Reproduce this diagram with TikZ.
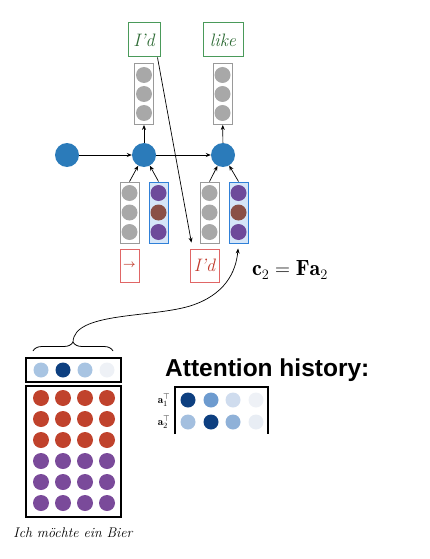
\documentclass[tikz,border=0pt]{standalone}
\usepackage{amsmath}
\usepackage{fontspec}
\newfontfamily\headfont{Liberation Sans}
\usetikzlibrary{arrows.meta,decorations.pathreplacing,calc}
\definecolor{hidblue}{HTML}{2B7BBA}
\definecolor{dotgray}{HTML}{A8A8A8}
\definecolor{boxgray}{HTML}{9A9A9A}
\definecolor{boxblue}{HTML}{2F80D8}
\definecolor{boxbluefill}{HTML}{D6E6F8}
\definecolor{vpurple}{HTML}{6E4A9A}
\definecolor{vbrown}{HTML}{8A5047}
\definecolor{gborder}{HTML}{4A9A5A}
\definecolor{gtext}{HTML}{2E6B35}
\definecolor{rborder}{HTML}{E06666}
\definecolor{rtext}{HTML}{C0392B}
\definecolor{mred}{HTML}{C0422C}
\definecolor{mpurple}{HTML}{7A4A9A}
\definecolor{navy}{HTML}{0D3F80}
\definecolor{aA}{HTML}{A8C4E2}
\definecolor{aB}{HTML}{EEF1F6}
\definecolor{aC}{HTML}{6D9BCF}
\definecolor{aD}{HTML}{CFDCEE}
\definecolor{aE}{HTML}{A3BFDF}
\definecolor{aF}{HTML}{8FB1D8}
\definecolor{aG}{HTML}{E8EDF4}
\begin{document}
\begin{tikzpicture}[x=1pt,y=-1pt,
  arr/.style={-{Stealth[length=5pt,width=4pt]}, line width=0.7pt},
  hid/.style={circle, fill=hidblue, minimum size=24pt, inner sep=0pt},
  dot/.style={circle, fill=#1, minimum size=16pt, inner sep=0pt},
  sdot/.style={circle, fill=#1, minimum size=15pt, inner sep=0pt},
  vbox/.style={draw=boxgray, line width=0.8pt, minimum width=19pt, minimum height=61pt, inner sep=0pt},
  bvbox/.style={draw=boxblue, fill=boxbluefill, line width=1pt, minimum width=19pt, minimum height=61pt, inner sep=0pt},
  gbox/.style={draw=gborder, line width=1pt, text=gtext, minimum height=34pt, inner sep=0pt, font=\fontsize{18}{20}\selectfont\itshape},
  rbox/.style={draw=rborder, line width=1pt, text=rtext, minimum height=33pt, inner sep=0pt, font=\fontsize{18}{20}\selectfont\itshape},
  frame/.style={draw=black, line width=1.4pt, inner sep=0pt}
]
\useasboundingbox (0,0) rectangle (430,559);

% hidden states
\node[hid] (h0) at (67,155) {};
\node[hid] (h1) at (144,155) {};
\node[hid] (h2) at (223,155) {};
\draw[arr] (h0) -- (h1);
\draw[arr] (h1) -- (h2);

% output vectors
\node[vbox] (u1) at (144,94) {};
\node[vbox] (u2) at (222.5,94) {};
\foreach \n/\x in {u1/144,u2/222.5}{
  \foreach \y in {75,94,113}{ \node[dot=dotgray] at (\x,\y) {}; }
}
\draw[arr] (h1) -- (u1);
\draw[arr] (h2) -- (u2);

% output words
\node[gbox, minimum width=32pt] (gI) at (144,40) {I'd};
\node[gbox, minimum width=40pt] (gL) at (223,40) {like};

% input vectors
\node[vbox] (g1) at (129.5,212.5) {};
\node[bvbox] (b1) at (158.5,212.5) {};
\node[vbox] (g2) at (209.5,212.5) {};
\node[bvbox] (b2) at (238.5,212.5) {};
\foreach \x in {129.5,209.5}{
  \foreach \y in {193,212.5,232}{ \node[dot=dotgray] at (\x,\y) {}; }
}
\foreach \x in {158.5,238.5}{
  \node[dot=vpurple] at (\x,193) {};
  \node[dot=vbrown] at (\x,212.5) {};
  \node[dot=vpurple] at (\x,232) {};
}
\draw[arr] (g1.north) -- (h1);
\draw[arr] (b1.north) -- (h1);
\draw[arr] (g2.north) -- (h2);
\draw[arr] (b2.north) -- (h2);

% input words
\node[rbox, minimum width=19pt, font=\fontsize{11}{12}\selectfont] (rA) at (129.5,265.5) {$\boldsymbol{\rightarrow}$};
\node[rbox, minimum width=29pt] (rI) at (204.5,265.5) {I'd};
\draw[arr, shorten >=6pt] ([xshift=-3pt]gI.south east) -- ([xshift=3pt]rI.north west);

% c2 = F a2
\node[font=\fontsize{22}{26}\selectfont] (ceq) at (290,270) {$\mathbf{c}_2 = \mathbf{F}\mathbf{a}_2$};

% attention vector
\node[frame, minimum width=95pt, minimum height=24pt] (av) at (73.5,370) {};
\node[sdot=aA] (av1) at (41,370) {};
\node[sdot=navy] (av2) at (63,370) {};
\node[sdot=aA] (av3) at (85,370) {};
\node[sdot=aB] (av4) at (107,370) {};

% brace and curve
\draw[line width=0.8pt, decorate, decoration={brace, amplitude=9pt}] (33,351) -- (113,351);
\coordinate (tip) at (73,342);
\draw[arr, shorten >=5pt] (tip) .. controls (74,312) and (150,318) .. (190,306) .. controls (225,295) and (236,272) .. (b2.south);

% encoder matrix
\node[frame, minimum width=95pt, minimum height=131pt] (F) at (73.5,451.5) {};
\foreach \y in {398,419,440}{
  \foreach \x in {41,63,85,107}{ \node[dot=mred] at (\x,\y) {}; }
}
\foreach \y in {461,482,503}{
  \foreach \x in {41,63,85,107}{ \node[dot=mpurple] at (\x,\y) {}; }
}
\node[font=\fontsize{14}{16}\selectfont\itshape] (src) at (73,533) {Ich möchte ein Bier};

% attention history
\node[font=\fontsize{24.5}{27}\selectfont\headfont\bfseries, anchor=base west, inner sep=0pt] (ah) at (165,376) {Attention history:};
\coordinate (hb1) at (175,434);
\coordinate (ht1) at (175,387);
\coordinate (ht2) at (268,387);
\coordinate (hb2) at (268,434);
\draw[line width=1.4pt] (hb1) -- (ht1) -- (ht2) -- (hb2);
\node[sdot=navy] at (188,400) {};
\node[sdot=aC] at (211,400) {};
\node[sdot=aD] at (233,400) {};
\node[sdot=aB] at (256,400) {};
\node[sdot=aE] at (188,422) {};
\node[sdot=navy] at (211,422) {};
\node[sdot=aF] at (233,422) {};
\node[sdot=aG] at (256,422) {};
\node[font=\fontsize{11}{12}\selectfont] (l1) at (164,400) {$\mathbf{a}_1^{\top}$};
\node[font=\fontsize{11}{12}\selectfont] (l2) at (164,422) {$\mathbf{a}_2^{\top}$};
\end{tikzpicture}
\end{document}
